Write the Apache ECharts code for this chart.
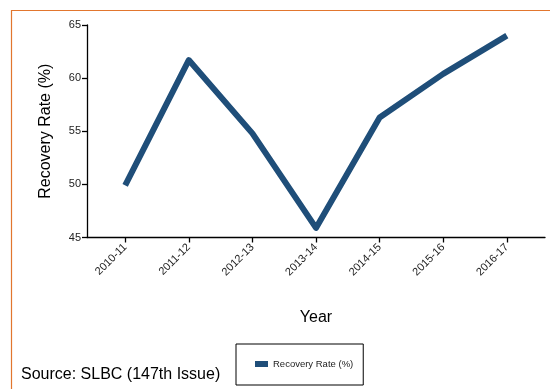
<!DOCTYPE html>
<html>
<head>
<meta charset="utf-8">
<script src="https://cdn.jsdelivr.net/npm/echarts@6/dist/echarts.min.js"></script>
<style>
html,body{margin:0;padding:0;background:#fff;}
#c{width:550px;height:389px;}
</style>
</head>
<body>
<div id="c"></div>
<script>
const categories = ['2010-11','2011-12','2012-13','2013-14','2014-15','2015-16','2016-17'];
const recoveryRate = [49.9, 61.7, 54.8, 45.9, 56.3, 60.4, 64.0];
const seriesName = 'Recovery Rate (%)';
const yTicks = [45, 50, 55, 60, 65];

const idx = categories.map((c, i) => i);
const chart = echarts.init(document.getElementById('c'), null, {renderer: 'canvas'});
const font = 'Liberation Sans, Arial, sans-serif';
chart.setOption({
  animation: false,
  backgroundColor: '#fff',
  textStyle: {fontFamily: font},
  grid: {left: 87, right: 5, top: 25, height: 212.5},
  xAxis: {
    type: 'value',
    min: -0.6, max: 6.6,
    name: 'Year',
    nameLocation: 'middle',
    nameGap: 72,
    nameTextStyle: {fontSize: 16, color: '#000', fontFamily: font},
    axisLine: {show: true, onZero: false, lineStyle: {color: '#000', width: 1.3}},
    axisTick: {show: true, customValues: idx, length: 5, lineStyle: {color: '#000', width: 1.3}},
    axisLabel: {
      customValues: idx,
      rotate: 45,
      fontSize: 11,
      color: '#222',
      margin: 8,
      formatter: v => categories[Math.round(v)] || ''
    },
    splitLine: {show: false}
  },
  yAxis: {
    type: 'value',
    min: yTicks[0], max: yTicks[yTicks.length - 1], interval: 5,
    name: seriesName,
    nameLocation: 'middle',
    nameGap: 33,
    nameTextStyle: {fontSize: 16, color: '#000', fontFamily: font},
    axisLine: {show: true, onZero: false, lineStyle: {color: '#000', width: 1.3}},
    axisTick: {show: true, length: 5, lineStyle: {color: '#000', width: 1.3}},
    axisLabel: {fontSize: 11, color: '#222', margin: 6},
    splitLine: {show: false}
  },
  legend: {
    left: 236, top: 344,
    padding: [15, 10, 16, 19],
    borderColor: '#000',
    borderWidth: 1,
    itemWidth: 13, itemHeight: 6,
    itemGap: 5,
    icon: 'rect',
    textStyle: {fontSize: 9.5, color: '#222', fontFamily: font},
    data: [seriesName]
  },
  series: [{
    name: seriesName,
    type: 'line',
    data: recoveryRate.map((v, i) => [idx[i], v]),
    showSymbol: false,
    symbol: 'none',
    lineStyle: {color: '#1F4E79', width: 6, join: 'round'},
    itemStyle: {color: '#1F4E79'}
  }],
  graphic: [
    {type: 'line', shape: {x1: 11, y1: 10.5, x2: 550, y2: 10.5}, style: {stroke: '#E2762E', lineWidth: 1.2}},
    {type: 'line', shape: {x1: 11.5, y1: 10, x2: 11.5, y2: 389}, style: {stroke: '#E2762E', lineWidth: 1.2}},
    {type: 'text', left: 21, top: 367, style: {text: 'Source: SLBC (147th Issue)', fontSize: 16, fill: '#000', fontFamily: font}}
  ]
});
</script>
</body>
</html>
